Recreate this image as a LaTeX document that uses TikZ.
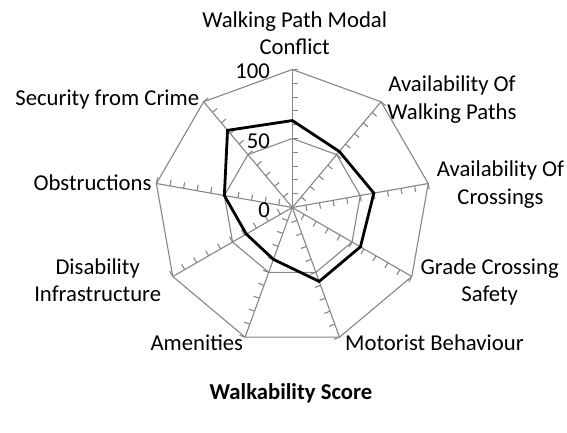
\documentclass[tikz,border=0pt]{standalone}
\usepackage{fontspec}
\setmainfont{Carlito}
\definecolor{gridgray}{RGB}{134,134,134}
\begin{document}
\begin{tikzpicture}[x=1pt,y=1pt,
  gridline/.style={draw=gridgray, line width=1.1pt},
  tickline/.style={draw=gridgray, line width=1.1pt},
  dataline/.style={draw=black, line width=2.8pt, line join=miter},
  lbl/.style={font=\fontsize{22.7}{27.5}\selectfont, inner sep=0pt, align=center},
  ttl/.style={font=\fontsize{22.7}{27.5}\selectfont\bfseries, inner sep=0pt}]
\useasboundingbox (0,0) rectangle (567,432);
\coordinate (C) at (292.3,224.5);
\begin{scope}[shift={(C)}]
  \foreach \i in {0,...,8} {
    \pgfmathsetmacro\a{90-40*\i}
    \draw[gridline] (0,0) -- ({\a}:138);
    \foreach \k in {1,...,10}
      \draw[tickline] ({\a}:{\k*13.8}) -- ++({\a-90}:6);
  }
  \draw[gridline] (90:69) \foreach \i in {1,...,8}{ -- ({90-40*\i}:69)} -- cycle;
  \draw[gridline] (90:138) \foreach \i in {1,...,8}{ -- ({90-40*\i}:138)} -- cycle;
  \draw[dataline] (90:{63*1.38}) -- (50:{53*1.38}) -- (10:{60*1.38})
    -- (-30:{57*1.38}) -- (-70:{57*1.38}) -- (-110:{40*1.38})
    -- (-150:{38.5*1.38}) -- (170:{50*1.38}) -- (130:{73*1.38}) -- cycle;
\end{scope}
\node[lbl, anchor=base] (wpmc) at (294.7,377) {Walking Path Modal\\Conflict};
\node[lbl, anchor=base] (aowp) at (452,312.7) {Availability Of\\Walking Paths};
\node[lbl, anchor=base] (aoc) at (500.5,228) {Availability Of\\Crossings};
\node[lbl, anchor=base] (gcs) at (489.7,130.3) {Grade Crossing\\Safety};
\node[lbl, anchor=base west] (mb) at (345,82) {Motorist Behaviour};
\node[lbl, anchor=base east] (am) at (243.3,82) {Amenities};
\node[lbl, anchor=base] (di) at (97.7,130.3) {Disability\\Infrastructure};
\node[lbl, anchor=base east] (ob) at (151.7,242) {Obstructions};
\node[lbl, anchor=base east] (sfc) at (199.3,326.3) {Security from Crime};
\node[lbl, anchor=base east] (v100) at (270,353) {100};
\node[lbl, anchor=base east] (v50) at (270,283.7) {50};
\node[lbl, anchor=base east] (v0) at (270,214.7) {0};
\node[ttl, anchor=base] (ws) at (291,33) {Walkability Score};
\end{tikzpicture}
\end{document}
